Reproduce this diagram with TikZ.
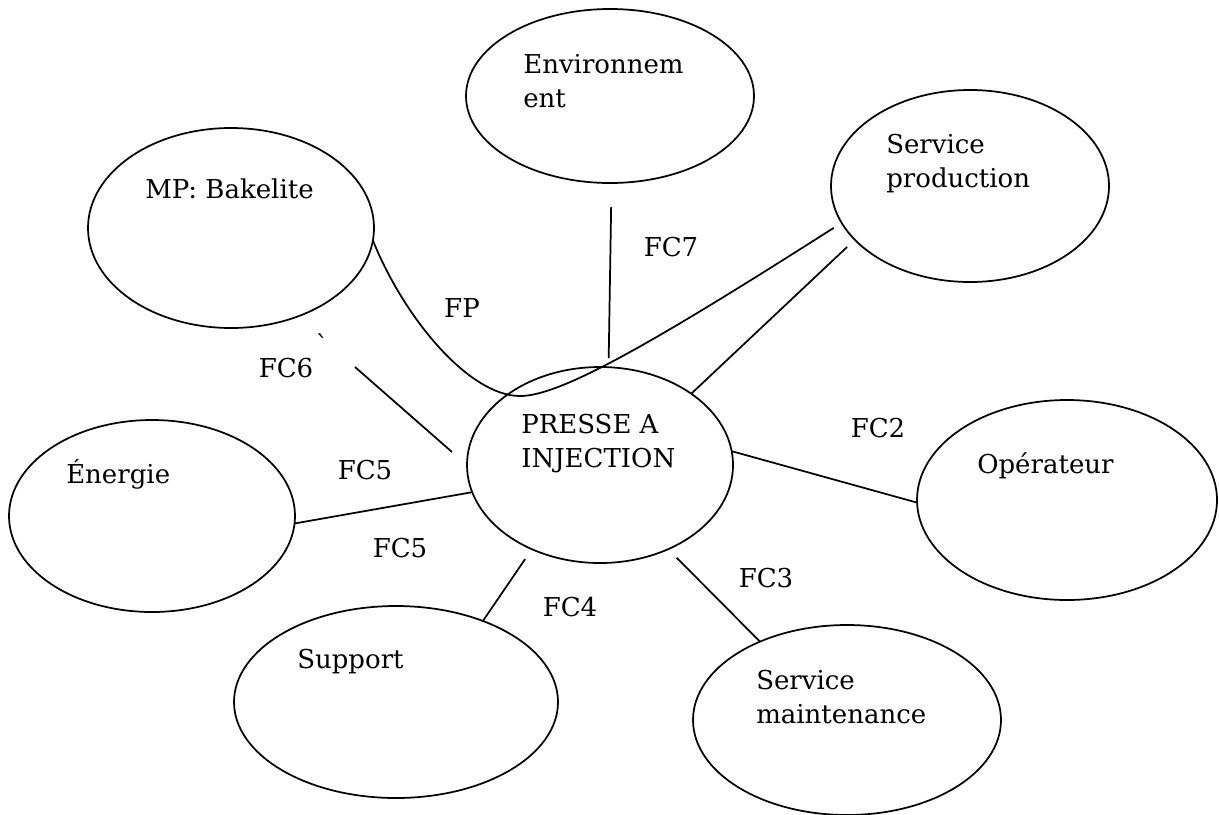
\documentclass[tikz,border=0pt]{standalone}
\usepackage{fontspec}
\setmainfont{DejaVu Serif}
% same face without the TeX quote mapping, for a literal grave accent
\newfontfamily\rawserif{DejaVu Serif}
\usetikzlibrary{shapes.geometric}
\begin{document}
\begin{tikzpicture}[x=0.75pt,y=-0.75pt,
  actor/.style={draw, ellipse, line width=1.3pt, inner sep=0pt, outer sep=0pt},
  caption/.style={anchor=base west, inner sep=0pt, align=left,
    font=\fontsize{19.5}{25.5}\selectfont},
  flabel/.style={inner sep=0pt, font=\fontsize{19.5}{24}\selectfont},
  link/.style={line width=1.3pt}]
\useasboundingbox (0,0) rectangle (1219,814);

% ellipses of the external elements
\node[actor, minimum width=199.5pt, minimum height=147pt]   (press) at (600,465) {};
\node[actor, minimum width=216pt,   minimum height=130.5pt] (env)   at (610,96)  {};
\node[actor, minimum width=208.5pt, minimum height=144pt]   (prod)  at (970,186) {};
\node[actor, minimum width=214.5pt, minimum height=150pt]   (bak)   at (231,228) {};
\node[actor, minimum width=214.5pt, minimum height=144pt]   (ener)  at (152,516) {};
\node[actor, minimum width=243pt,   minimum height=144pt]   (supp)  at (396,702) {};
\node[actor, minimum width=225pt,   minimum height=150pt]   (oper)  at (1067,500) {};
\node[actor, minimum width=231pt,   minimum height=142.5pt] (maint) at (847,720) {};

% texts inside the ellipses (base anchor = baseline of the last line)
\node[caption] (tpress) at (521,467) {PRESSE A\\INJECTION};
\node[caption] (tenv)   at (523,107) {Environnem\\ent};
\node[caption] (tprod)  at (886,187) {Service\\production};
\node[caption] (tbak)   at (145,198) {MP: Bakelite};
\node[caption] (tener)  at (66,483)  {Énergie};
\node[caption] (tsupp)  at (297,668) {Support};
\node[caption] (toper)  at (977,473) {Opérateur};
\node[caption] (tmaint) at (756,723) {Service\\maintenance};

% free ends of the FC6 line
\coordinate (fcsixa) at (355,367);
\coordinate (fcsixb) at (452,452);

% function links
\draw[link, shorten <=18pt, shorten >=6.75pt] (env.-89) -- (press.85);
\draw[link, shorten <=8pt] (prod.205) -- (press.38);
\draw[link, shorten >=7pt] (bak.-5) .. controls (405,320) and (470,396) .. (520,396)
      .. controls (560,396) and (650,345) .. (prod.196);
\draw[link] (fcsixa) -- (fcsixb);
\draw[link] (ener.-3) -- (press.192);
\draw[link, shorten >=9pt] (supp.43) -- (press.231);
\draw[link, shorten <=9pt] (press.-51) -- (maint.138);
\draw[link] (press.6) -- (oper.181);

% function labels
\node[flabel] (lfc7) at (671,247) {FC7};
\node[flabel] (lfp)  at (462,308) {FP};
\node[flabel] (lfc6) at (286,368) {FC6};
\node[flabel] (lfc5a) at (365,470) {FC5};
\node[flabel] (lfc5b) at (400,548) {FC5};
\node[flabel] (lfc4) at (570,607) {FC4};
\node[flabel] (lfc3) at (766,578) {FC3};
\node[flabel] (lfc2) at (878,428) {FC2};
\node[flabel, anchor=north] (tick) at (322,333) {\rawserif\symbol{96}};
\end{tikzpicture}
\end{document}
